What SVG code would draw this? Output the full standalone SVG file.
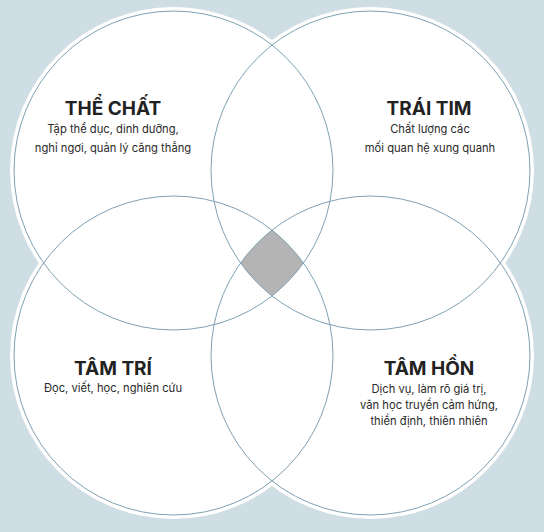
<svg xmlns="http://www.w3.org/2000/svg" width="544" height="532" viewBox="0 0 544 532">
  <style>
    .halo { fill: #ffffff; }
    .ring { fill: none; stroke: #7fa0b4; stroke-width: 1; }
    .title { font-family: Inter, "Noto Sans", "Liberation Sans", sans-serif; font-weight: 700; font-size: 19px; fill: #222222; text-anchor: middle; }
    .sub { font-family: Inter, "Noto Sans", "Liberation Sans", sans-serif; font-weight: 400; font-size: 11.2px; fill: #2a2a2a; text-anchor: middle; }
  </style>
  <rect x="0" y="0" width="544" height="532" fill="#cfdde5"/>
  <g id="backgrounds">
    <circle class="halo" cx="173.5" cy="170.5" r="163.5"/>
    <circle class="halo" cx="370.5" cy="170.5" r="163.5"/>
    <circle class="halo" cx="173.5" cy="355.5" r="163.5"/>
    <circle class="halo" cx="370.5" cy="355.5" r="163.5"/>
  </g>
  <g id="overlap-center">
    <path d="M 272 230.05 A 159.5 159.5 0 0 1 303.44 263 A 159.5 159.5 0 0 1 272 295.95 A 159.5 159.5 0 0 1 240.56 263 A 159.5 159.5 0 0 1 272 230.05 Z" fill="#b4b4b4"/>
  </g>
  <g id="the-chat">
    <circle class="ring" cx="173.5" cy="170.5" r="159.5"/>
    <text class="title" x="113" y="115">THỂ CHẤT</text>
    <text class="sub" x="113" y="133">Tập thể dục, dinh dưỡng,</text>
    <text class="sub" x="113" y="151.5">nghỉ ngơi, quản lý căng thẳng</text>
  </g>
  <g id="trai-tim">
    <circle class="ring" cx="370.5" cy="170.5" r="159.5"/>
    <text class="title" x="429" y="115">TRÁI TIM</text>
    <text class="sub" x="430" y="133">Chất lượng các</text>
    <text class="sub" x="430" y="151.5">mối quan hệ xung quanh</text>
  </g>
  <g id="tam-tri">
    <circle class="ring" cx="173.5" cy="355.5" r="159.5"/>
    <text class="title" x="113" y="375">TÂM TRÍ</text>
    <text class="sub" x="113" y="392">Đọc, viết, học, nghiên cứu</text>
  </g>
  <g id="tam-hon">
    <circle class="ring" cx="370.5" cy="355.5" r="159.5"/>
    <text class="title" x="429" y="375">TÂM HỒN</text>
    <text class="sub" x="429" y="392.5">Dịch vụ, làm rõ giá trị,</text>
    <text class="sub" x="429" y="408.5">văn học truyền cảm hứng,</text>
    <text class="sub" x="429" y="424.5">thiền định, thiên nhiên</text>
  </g>
  <g id="connectors"></g>
</svg>
